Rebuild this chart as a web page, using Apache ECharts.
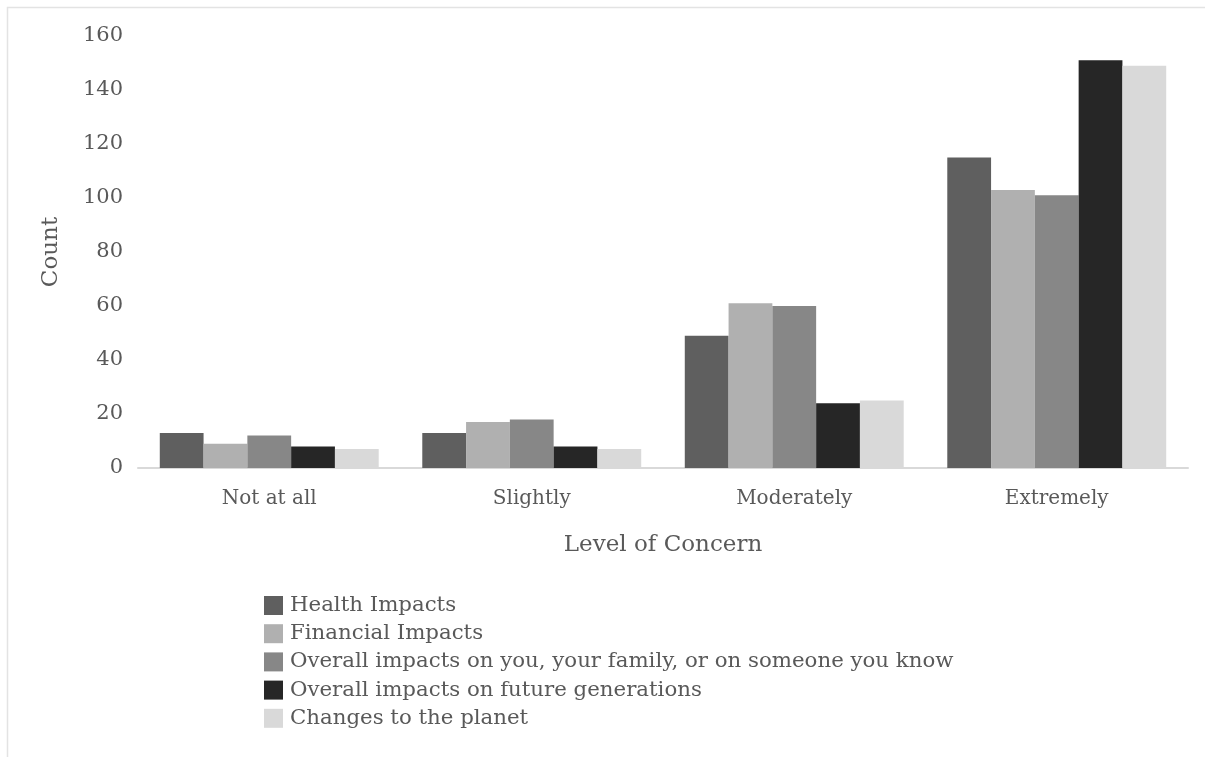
<!DOCTYPE html>
<html>
<head>
<meta charset="utf-8">
<script src="https://cdn.jsdelivr.net/npm/echarts@6/dist/echarts.min.js"></script>
<style>
  html, body { margin: 0; padding: 0; background: #ffffff; }
  #chart { width: 1205px; height: 757px; }
</style>
</head>
<body>
<div id="chart"></div>
<script>
// Level-of-concern survey counts, one array per concern type
const categories = ['Not at all', 'Slightly', 'Moderately', 'Extremely'];
const seriesNames = [
  'Health Impacts',
  'Financial Impacts',
  'Overall impacts on you, your family, or on someone you know',
  'Overall impacts on future generations',
  'Changes to the planet'
];
const healthImpacts    = [13, 13, 49, 115];
const financialImpacts = [9, 17, 61, 103];
const overallImpacts   = [12, 18, 60, 101];
const futureGenerations = [8, 8, 24, 151];
const planetChanges    = [7, 7, 25, 149];
const yTicks = [0, 20, 40, 60, 80, 100, 120, 140, 160];

const seriesValues = [healthImpacts, financialImpacts, overallImpacts, futureGenerations, planetChanges];
const colors = ['#5f5f5f', '#b0b0b0', '#878787', '#262626', '#d9d9d9'];
const fontFamily = '"DejaVu Serif", serif';
const textColor = '#595959';

const chart = echarts.init(document.getElementById('chart'), null, { renderer: 'canvas' });

chart.setOption({
  animation: false,
  backgroundColor: '#ffffff',
  textStyle: { fontFamily: fontFamily, color: textColor },
  graphic: [{
    type: 'rect',
    shape: { x: 7.5, y: 7.5, width: 1300, height: 900 },
    style: { fill: 'none', stroke: '#e3e3e3', lineWidth: 1.5 },
    silent: true
  }],
  grid: { left: 138, right: 17, top: 36, bottom: 289, containLabel: false },
  legend: {
    orient: 'vertical',
    left: 259,
    top: 590,
    itemWidth: 19,
    itemHeight: 19,
    itemGap: 7.2,
    icon: 'rect',
    textStyle: { fontFamily: fontFamily, fontSize: 21.3, color: textColor, padding: [0, 0, 0, 2] },
    data: seriesNames
  },
  xAxis: {
    type: 'category',
    data: categories,
    name: 'Level of Concern',
    nameLocation: 'middle',
    nameGap: 66,
    nameTextStyle: { fontFamily: fontFamily, fontSize: 23, color: textColor },
    axisLine: { lineStyle: { color: '#d9d9d9', width: 2 } },
    axisTick: { show: false },
    axisLabel: { fontFamily: fontFamily, fontSize: 20, color: textColor, margin: 21 }
  },
  yAxis: {
    type: 'value',
    min: yTicks[0],
    max: yTicks[yTicks.length - 1],
    interval: 20,
    name: 'Count',
    nameLocation: 'middle',
    nameGap: 75,
    nameTextStyle: { fontFamily: fontFamily, fontSize: 23, color: textColor },
    axisLine: { show: false },
    axisTick: { show: false },
    splitLine: { show: false },
    axisLabel: {
      fontFamily: fontFamily, fontSize: 21, color: textColor, margin: 15,
      align: 'right'
    }
  },
  series: seriesNames.map((name, i) => ({
    name: name,
    type: 'bar',
    data: seriesValues[i],
    barGap: '0%',
    barCategoryGap: '16.6%',
    itemStyle: { color: colors[i] }
  }))
});
</script>
</body>
</html>
